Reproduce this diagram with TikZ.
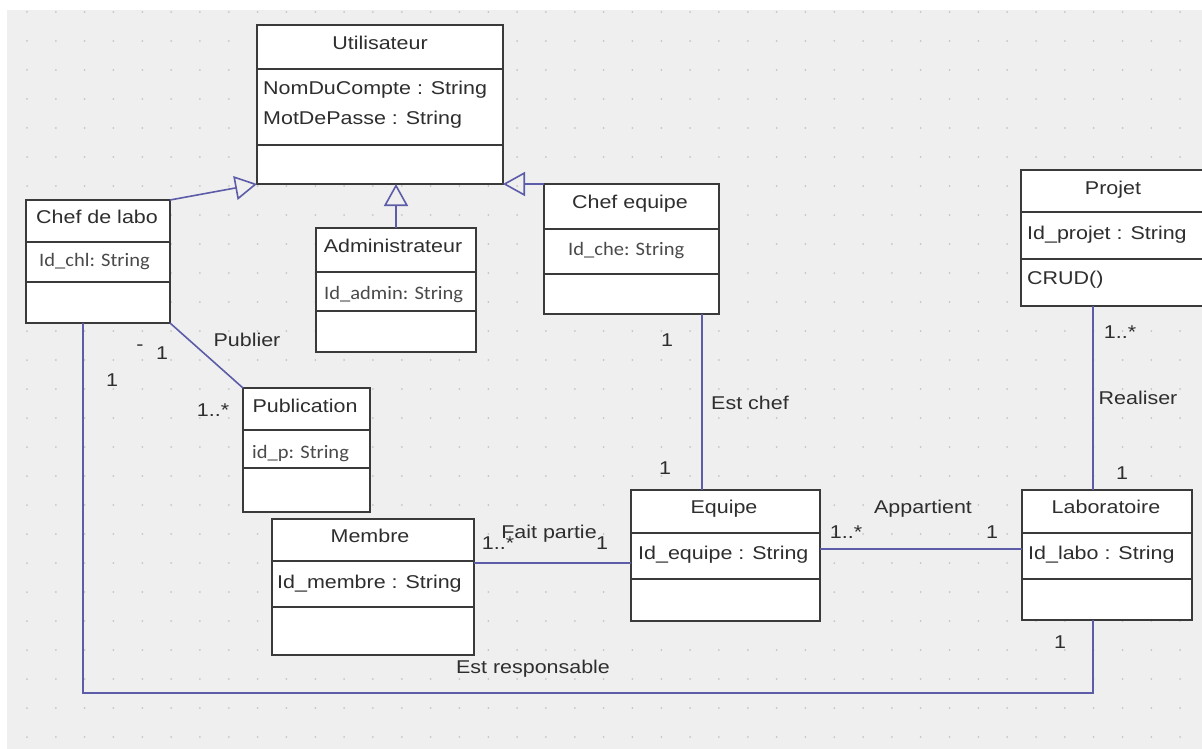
\documentclass[tikz,border=0pt]{standalone}
\usepackage{fontspec}
\setmainfont{Liberation Sans}[FakeStretch=1.16]
\newfontfamily\attrfont{Carlito}[FakeStretch=1.08]
\usetikzlibrary{arrows.meta}

\definecolor{canvas}{HTML}{EFEFEF}
\definecolor{gridc}{HTML}{C6C6C6}
\definecolor{edge}{HTML}{5C5CA8}
\definecolor{ink}{HTML}{2E2E2E}
\definecolor{border}{HTML}{3A3A3A}
\definecolor{attrink}{HTML}{4A4A4A}

% UML class: name, left, top, right, bottom, first divider, second divider
\newcommand{\classbox}[7]{%
  \node[cbox, minimum width={#4-#2}, minimum height={#5-#3}] (#1) at (#2,#3) {};
  \draw[divider] (#2,#6) -- (#4,#6);
  \draw[divider] (#2,#7) -- (#4,#7);
}

\tikzset{
  cbox/.style={draw=border, line width=1.8pt, fill=white, inner sep=0pt, outer sep=0pt, anchor=north west},
  divider/.style={draw=border, line width=1.6pt},
  assoc/.style={draw=edge, line width=1.6pt},
  gen/.style={assoc, -{Triangle[open, length=22pt, width=24pt]}},
  ttl/.style={font=\fontsize{18.5}{20}\selectfont, text=ink, inner sep=0pt, anchor=base},
  attr/.style={ttl, anchor=base west},
  cattr/.style={font=\attrfont\fontsize{19}{20}\selectfont, text=attrink, inner sep=0pt, anchor=base west},
  lbl/.style={ttl}
}

\begin{document}
\begin{tikzpicture}[x=1pt,y=-1pt]
\useasboundingbox (0,0) rectangle (1202,749);
\clip (0,0) rectangle (1202,749);
\fill[white] (0,0) rectangle (1202,749);
\fill[canvas] (7,10) rectangle (1202,749);
% dotted editor grid
\foreach \i in {0,...,41}{
  \foreach \j in {0,...,25}{
    \fill[gridc] ({27+28.83*\i},{12+29*\j}) circle (1pt);
  }
}

% classes
\classbox{util}{257}{25}{503}{184}{69}{145}
\classbox{chl}{26}{200}{170}{323}{242}{282}
\classbox{admin}{316}{228}{476}{352}{272}{311}
\classbox{cheq}{544}{184}{719}{314}{229}{274}
\classbox{projet}{1021}{170}{1230}{306}{212}{259}
\classbox{pub}{243}{388}{370}{512}{430}{468}
\classbox{membre}{272}{519}{474}{655}{561}{607}
\classbox{equipe}{631}{490}{820}{621}{533}{579}
\classbox{labo}{1022}{490}{1192}{620}{533}{579}

% class texts
\node[ttl] (tUtil) at (380,50) {Utilisateur};
\node[attr] (aUtil1) at (263,94.5) {NomDuCompte : String};
\node[attr] (aUtil2) at (263,124.5) {MotDePasse : String};
\node[ttl] (tChl) at (97,223.5) {Chef de labo};
\node[cattr] (aChl) at (39,266) {Id\_chl: String};
\node[ttl] (tAdmin) at (393,252.5) {Administrateur};
\node[cattr] (aAdmin) at (324,299) {Id\_admin: String};
\node[ttl] (tCheq) at (630,208.5) {Chef equipe};
\node[cattr] (aCheq) at (568,255) {Id\_che: String};
\node[ttl] (tProjet) at (1113,194.5) {Projet};
\node[attr] (aProjet) at (1027,239.5) {Id\_projet : String};
\node[attr] (mProjet) at (1027,284.5) {CRUD()};
\node[ttl] (tPub) at (305,412.5) {Publication};
\node[cattr] (aPub) at (252,458) {id\_p: String};
\node[ttl] (tMembre) at (370,542.5) {Membre};
\node[attr] (aMembre) at (277,588.5) {Id\_membre : String};
\node[ttl] (tEquipe) at (724,513.5) {Equipe};
\node[attr] (aEquipe) at (638,559.5) {Id\_equipe : String};
\node[ttl] (tLabo) at (1106,513.5) {Laboratoire};
\node[attr] (aLabo) at (1028,559.5) {Id\_labo : String};

% generalisations
\draw[gen] (chl.north east) -- (util.south west);
\draw[gen] (admin.north) -- (admin.north |- util.south);
\draw[gen] (cheq.north west) -- (util.south east);

% associations
\draw[assoc] (chl.south east) -- (pub.north west);
\draw[assoc] ([xshift=-17pt]cheq.south east) -- ([xshift=-17pt]cheq.south east |- equipe.north);
\draw[assoc] ([yshift=24pt]membre.east) -- ([yshift=24pt]membre.east -| equipe.west);
\draw[assoc] ([yshift=6.5pt]equipe.east) -- ([yshift=6.5pt]equipe.east -| labo.west);
\draw[assoc] ([xshift=-14pt]labo.north) -- ([xshift=-14pt]labo.north |- projet.south);
\coordinate (respCorner) at (83,693);
\draw[assoc] ([xshift=-14pt]labo.south) |- (respCorner) -- (respCorner |- chl.south);

% association names and multiplicities
\node[lbl] (lPublier) at (247,346.5) {Publier};
\node[lbl] (mDash) at (140,350.5) {-};
\node[lbl] (mPub1) at (162,359.5) {1};
\node[lbl] (mResp1) at (112,386.5) {1};
\node[lbl] (mPubN) at (213,416.5) {1..*};
\node[lbl] (mChef1) at (667,346.5) {1};
\node[lbl] (lEstChef) at (750,409.5) {Est chef};
\node[lbl] (mChef2) at (665,474.5) {1};
\node[lbl] (mMembreN) at (498,549) {1..*};
\node[lbl] (lFait) at (549,538.5) {Fait partie};
\node[lbl] (mMembre1) at (602,549.5) {1};
\node[lbl] (mAppN) at (846,538.5) {1..*};
\node[lbl] (mApp1) at (992,538.5) {1};
\node[lbl] (lApp) at (923,513.5) {Appartient};
\node[lbl] (mReaN) at (1120,338.5) {1..*};
\node[lbl] (lRea) at (1138,404.5) {Realiser};
\node[lbl] (mRea1) at (1122,479.5) {1};
\node[lbl] (mLabo1) at (1060,648.5) {1};
\node[lbl] (lResp) at (533,673.5) {Est responsable};
\end{tikzpicture}
\end{document}
